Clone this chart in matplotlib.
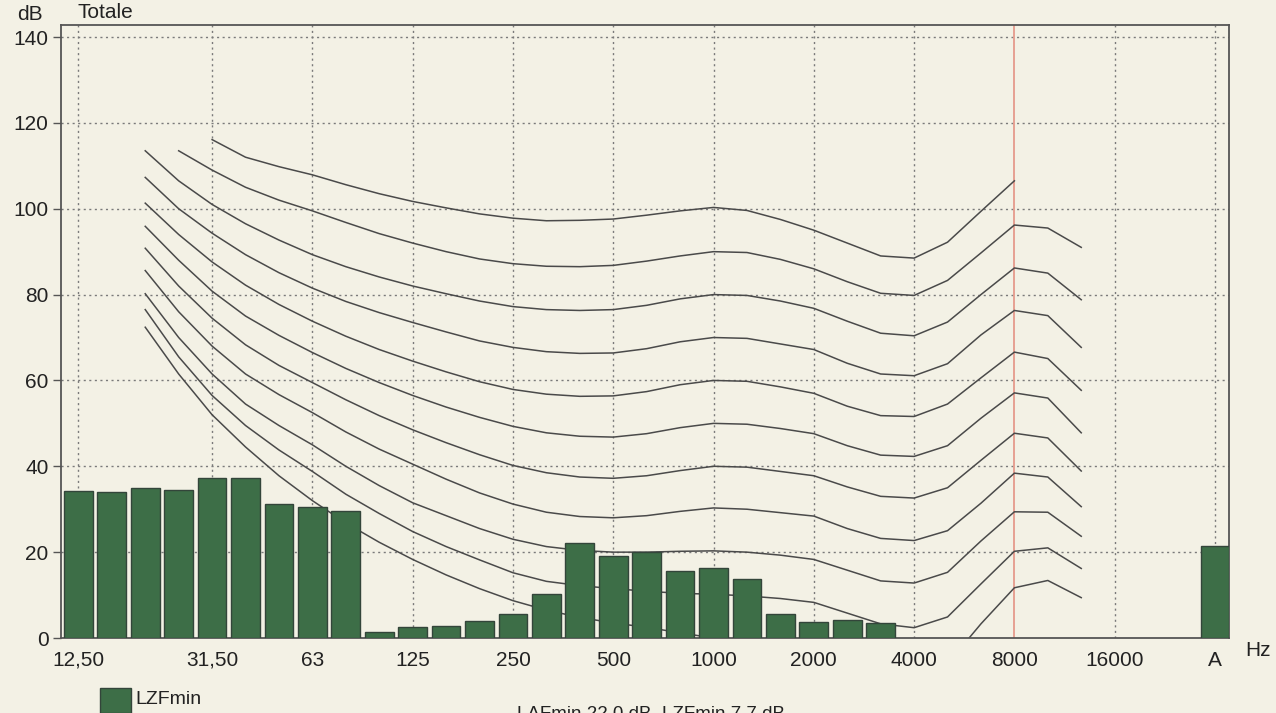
import matplotlib
matplotlib.use('Agg')
import matplotlib.pyplot as plt
from matplotlib.patches import Rectangle

plt.rcParams['font.family'] = ['Liberation Sans', 'DejaVu Sans']

# ---- data -------------------------------------------------------------
bands = ['12,5', '16', '20', '25', '31,5', '40', '50', '63', '80', '100',
         '125', '160', '200', '250', '315', '400', '500', '630', '800',
         '1000', '1250', '1600', '2000', '2500', '3150', '4000', '5000',
         '6300', '8000', '10000', '12500', '16000', '20000']
lzfmin = [34.2, 34.0, 35.0, 34.5, 37.3, 37.3, 31.3, 30.6, 29.7, 1.5,
          2.6, 2.8, 3.9, 5.5, 10.3, 22.2, 19.1, 20.0, 15.6, 16.2,
          13.7, 5.7, 3.8, 4.2, 3.4]
lzfmin_A = 21.4

tick_labels = ['12,50', '31,50', '63', '125', '250', '500', '1000', '2000',
               '4000', '8000', '16000', 'A']
tick_bands = ['12,5', '31,5', '63', '125', '250', '500', '1000', '2000',
              '4000', '8000', '16000', 'A']

# contour curves: (first band, values)
curve_100 = ('31,5', [116.1, 112.0, 109.8, 107.9, 105.6, 103.5, 101.7, 100.2, 98.8,
                      97.8, 97.2, 97.3, 97.6, 98.5, 99.5, 100.3, 99.6, 97.5, 95.0,
                      92.0, 89.0, 88.5, 92.2, 99.4, 106.5])
curve_90 = ('25', [113.5, 109, 105, 102, 99.5, 96.8, 94.2, 92, 90, 88.3, 87.2, 86.6,
                   86.5, 86.8, 87.8, 89, 90, 89.8, 88.2, 86, 83, 80.3, 79.8, 83.3,
                   89.7, 96.2, 95.5, 91])
curve_80 = ('20', [113.5, 106.5, 101, 96.5, 92.7, 89.3, 86.5, 84.1, 82, 80.2, 78.5,
                   77.2, 76.5, 76.3, 76.5, 77.5, 79, 80, 79.8, 78.5, 76.8, 73.8, 71,
                   70.4, 73.6, 80, 86.2, 85, 78.8])
curve_70 = ('20', [107.3, 100, 94.3, 89.3, 85.1, 81.5, 78.4, 75.8, 73.5, 71.3, 69.2,
                   67.7, 66.7, 66.3, 66.4, 67.4, 69, 70, 69.8, 68.5, 67.2, 64, 61.5,
                   61.1, 63.9, 70.6, 76.3, 75.1, 67.7])
curve_60 = ('20', [101.3, 94, 87.6, 82.2, 77.7, 73.8, 70.3, 67.2, 64.5, 62, 59.7,
                   57.9, 56.8, 56.3, 56.4, 57.4, 59, 60, 59.8, 58.5, 57, 54, 51.8,
                   51.6, 54.5, 60.6, 66.6, 65.1, 57.7])
curve_50 = ('20', [95.9, 88, 80.8, 75, 70.5, 66.5, 62.8, 59.5, 56.5, 53.8, 51.4,
                   49.3, 47.8, 47, 46.8, 47.6, 49, 50, 49.8, 48.8, 47.6, 44.8, 42.6,
                   42.3, 44.8, 51.2, 57.1, 55.9, 47.8])
curve_40 = ('20', [90.8, 82, 74.5, 68.3, 63.5, 59.5, 55.5, 51.8, 48.5, 45.5, 42.7,
                   40.2, 38.5, 37.5, 37.2, 37.8, 39, 40, 39.8, 38.8, 37.8, 35.2, 33,
                   32.6, 35, 41.4, 47.7, 46.6, 38.9])
curve_30 = ('20', [85.6, 76, 68, 61.5, 56.7, 52.5, 48, 44, 40.5, 37, 33.8, 31.2,
                   29.3, 28.3, 28, 28.5, 29.5, 30.3, 30, 29.2, 28.4, 25.5, 23.2,
                   22.7, 25, 31.4, 38.4, 37.5, 30.6])
curve_20 = ('20', [80.2, 70, 61.5, 54.5, 49.5, 45, 40, 35.5, 31.5, 28.5, 25.5, 23,
                   21.3, 20.4, 20, 20, 20.2, 20.3, 20, 19.3, 18.3, 15.8, 13.3, 12.8,
                   15.3, 22.6, 29.4, 29.3, 23.7])
curve_10 = ('20', [76.5, 65.5, 56.5, 49.5, 43.8, 38.8, 33.5, 29, 24.8, 21.3, 18.2,
                   15.2, 13.2, 12.2, 11.5, 10.9, 10.4, 10.2, 9.8, 9.2, 8.3, 5.8, 3.3,
                   2.4, 4.9, 12.6, 20.2, 21.0, 16.2])
curve_0 = ('20', [72.4, 61.5, 52, 44.5, 37.8, 32, 26.8, 22.3, 18.3, 14.7, 11.5,
                  8.7, 6.5, 4.8, 3.5, 2.5, 1.2, 0.0, -0.5, -2, -4, -6.5, -8, -7.5,
                  -6, 3.3, 11.7, 13.4, 9.4])
curves = [curve_100, curve_90, curve_80, curve_70, curve_60, curve_50,
          curve_40, curve_30, curve_20, curve_10, curve_0]

# ---- layout -----------------------------------------------------------
W, H = 1276, 713
fig = plt.figure(figsize=(W / 100, H / 100), dpi=100)
bg = '#f3f1e5'
fig.patch.set_facecolor(bg)

L, R, T, B = 61, 1229, 25, 638
ax = fig.add_axes([L / W, 1 - B / H, (R - L) / W, (B - T) / H])
ax.set_facecolor(bg)

pos = {b: i for i, b in enumerate(bands)}
pos['A'] = len(bands) + 1

ax.set_xlim(-0.52, 34.42)
ax.set_ylim(0, 142.8)

grid_kw = dict(color='#7a7a7a', lw=1.0, linestyle=(0, (1.5, 2.5)), zorder=1)
for v in range(20, 141, 20):
    ax.axhline(v, **grid_kw)
for b in tick_bands:
    if b == '8000':
        ax.axvline(pos[b], color='#e59a8c', lw=1.3, zorder=1.5)
    else:
        ax.axvline(pos[b], **grid_kw)

for start, vals in curves:
    i0 = pos[start]
    xs = list(range(i0, i0 + len(vals)))
    ax.plot(xs, vals, color='#4a4a4a', lw=1.1, zorder=2, clip_on=True)

bar_kw = dict(width=0.86, color='#3d6e47', edgecolor='#33453a', linewidth=1.0, zorder=3)
ax.bar(range(len(lzfmin)), lzfmin, **bar_kw)
ax.bar([pos['A']], [lzfmin_A], **bar_kw)

for s in ax.spines.values():
    s.set_color('#555555')
    s.set_linewidth(1.3)

ax.set_yticks(range(0, 141, 20))
ax.tick_params(axis='y', length=6, width=1.0, color='#555555', labelsize=15, pad=3,
               labelcolor='#222222')
ax.set_xticks([pos[b] for b in tick_bands], tick_labels)
ax.tick_params(axis='x', length=0, labelsize=15, pad=9, labelcolor='#222222')

fig.text(17 / W, 1 - 15 / H, 'dB', fontsize=15, color='#222222', va='center')
fig.text(77 / W, 1 - 13 / H, 'Totale', fontsize=15, color='#222222', va='center')
fig.text(1245 / W, 1 - 650 / H, 'Hz', fontsize=15, color='#222222', va='center')

# legend
fig.patches.append(Rectangle((100 / W, 0), 31 / W, 25 / H, transform=fig.transFigure,
                             facecolor='#3d6e47', edgecolor='#33453a', lw=1))
fig.text(135 / W, 1 - 700 / H, 'LZFmin', fontsize=14, color='#222222', va='center')
fig.text(785 / W, 1 - 714 / H, 'LAFmin 22,0 dB  LZFmin 7,7 dB', fontsize=13.5,
         color='#222222', va='center', ha='right')

fig.savefig('out.png', dpi=100, facecolor=bg)
